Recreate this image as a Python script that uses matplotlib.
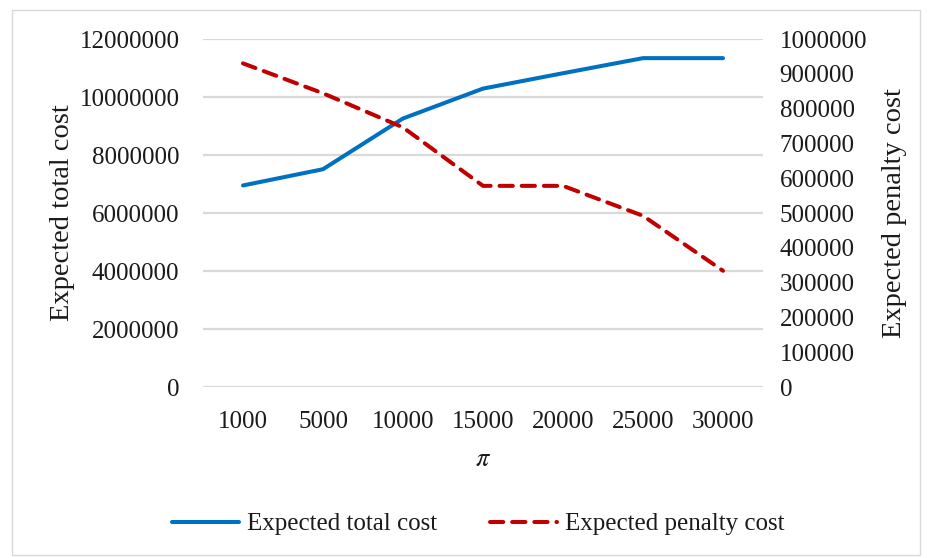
import matplotlib
matplotlib.use("Agg")
import matplotlib.pyplot as plt
from matplotlib.patches import Rectangle

# Data
pi_values = ["1000", "5000", "10000", "15000", "20000", "25000", "30000"]
expected_total_cost = [6950000, 7510000, 9260000, 10290000, 10820000, 11340000, 11340000]
expected_penalty_cost = [930000, 844000, 746000, 578000, 578000, 492000, 334000]

left_ticks = [0, 2000000, 4000000, 6000000, 8000000, 10000000, 12000000]
right_ticks = [0, 100000, 200000, 300000, 400000, 500000, 600000, 700000, 800000, 900000, 1000000]

BLUE = "#0070C0"
RED = "#C00000"
GRID = "#d9d9d9"
TEXT = "#1a1a1a"

plt.rcParams["font.family"] = ["Liberation Serif", "DejaVu Serif"]
plt.rcParams["mathtext.fontset"] = "stix"

W, H = 930, 558
fig = plt.figure(figsize=(W / 100, H / 100), dpi=100)
fig.patch.set_facecolor("white")

# chart-area border
fig.patches.append(Rectangle((12 / W, 1 - 555 / H), (920 - 12) / W, (555 - 10) / H,
                             transform=fig.transFigure, fill=False,
                             edgecolor=GRID, linewidth=1.0))

ax = fig.add_axes([203 / W, 1 - 387 / H, (763 - 203) / W, (387 - 39) / H])
ax2 = ax.twinx()

x = list(range(len(pi_values)))

ax.set_ylim(0, 12000000)
ax.set_yticks(left_ticks)
ax.set_yticklabels([str(v) for v in left_ticks])
ax2.set_ylim(0, 1000000)
ax2.set_yticks(right_ticks)
ax2.set_yticklabels([str(v) for v in right_ticks])
ax.set_xlim(-0.5, len(pi_values) - 0.5)
ax.set_xticks(x)
ax.set_xticklabels(pi_values)

for a in (ax, ax2):
    for s in a.spines.values():
        s.set_visible(False)
    a.tick_params(length=0, labelsize=18, colors=TEXT)

ax.tick_params(axis="y", pad=17)
ax2.tick_params(axis="y", pad=12)
ax.tick_params(axis="x", pad=17)

ax.yaxis.grid(True, color=GRID, linewidth=1.6)
ax.set_axisbelow(True)

l1, = ax.plot(x, expected_total_cost, color=BLUE, linewidth=2.9,
              solid_capstyle="round", solid_joinstyle="round",
              label="Expected total cost", zorder=3)
l2, = ax2.plot(x, expected_penalty_cost, color=RED, linewidth=2.9,
               dashes=(3.3, 2.2), dash_capstyle="round", dash_joinstyle="round",
               label="Expected penalty cost", zorder=3)

ax.set_xlabel(r"$\pi$", fontsize=19, color=TEXT, labelpad=12)
ax.set_ylabel("Expected total cost", fontsize=20.5, color=TEXT, labelpad=3)
ax2.set_ylabel("Expected penalty cost", fontsize=20.5, color=TEXT, labelpad=11)

fig.legend(handles=[l1, l2], loc="center", bbox_to_anchor=(478 / W, 1 - 524 / H),
           ncol=2, frameon=False, fontsize=18, handlelength=2.7,
           handletextpad=0.3, columnspacing=2.1, labelcolor=TEXT)

fig.savefig("out.png", dpi=100, facecolor="white")
